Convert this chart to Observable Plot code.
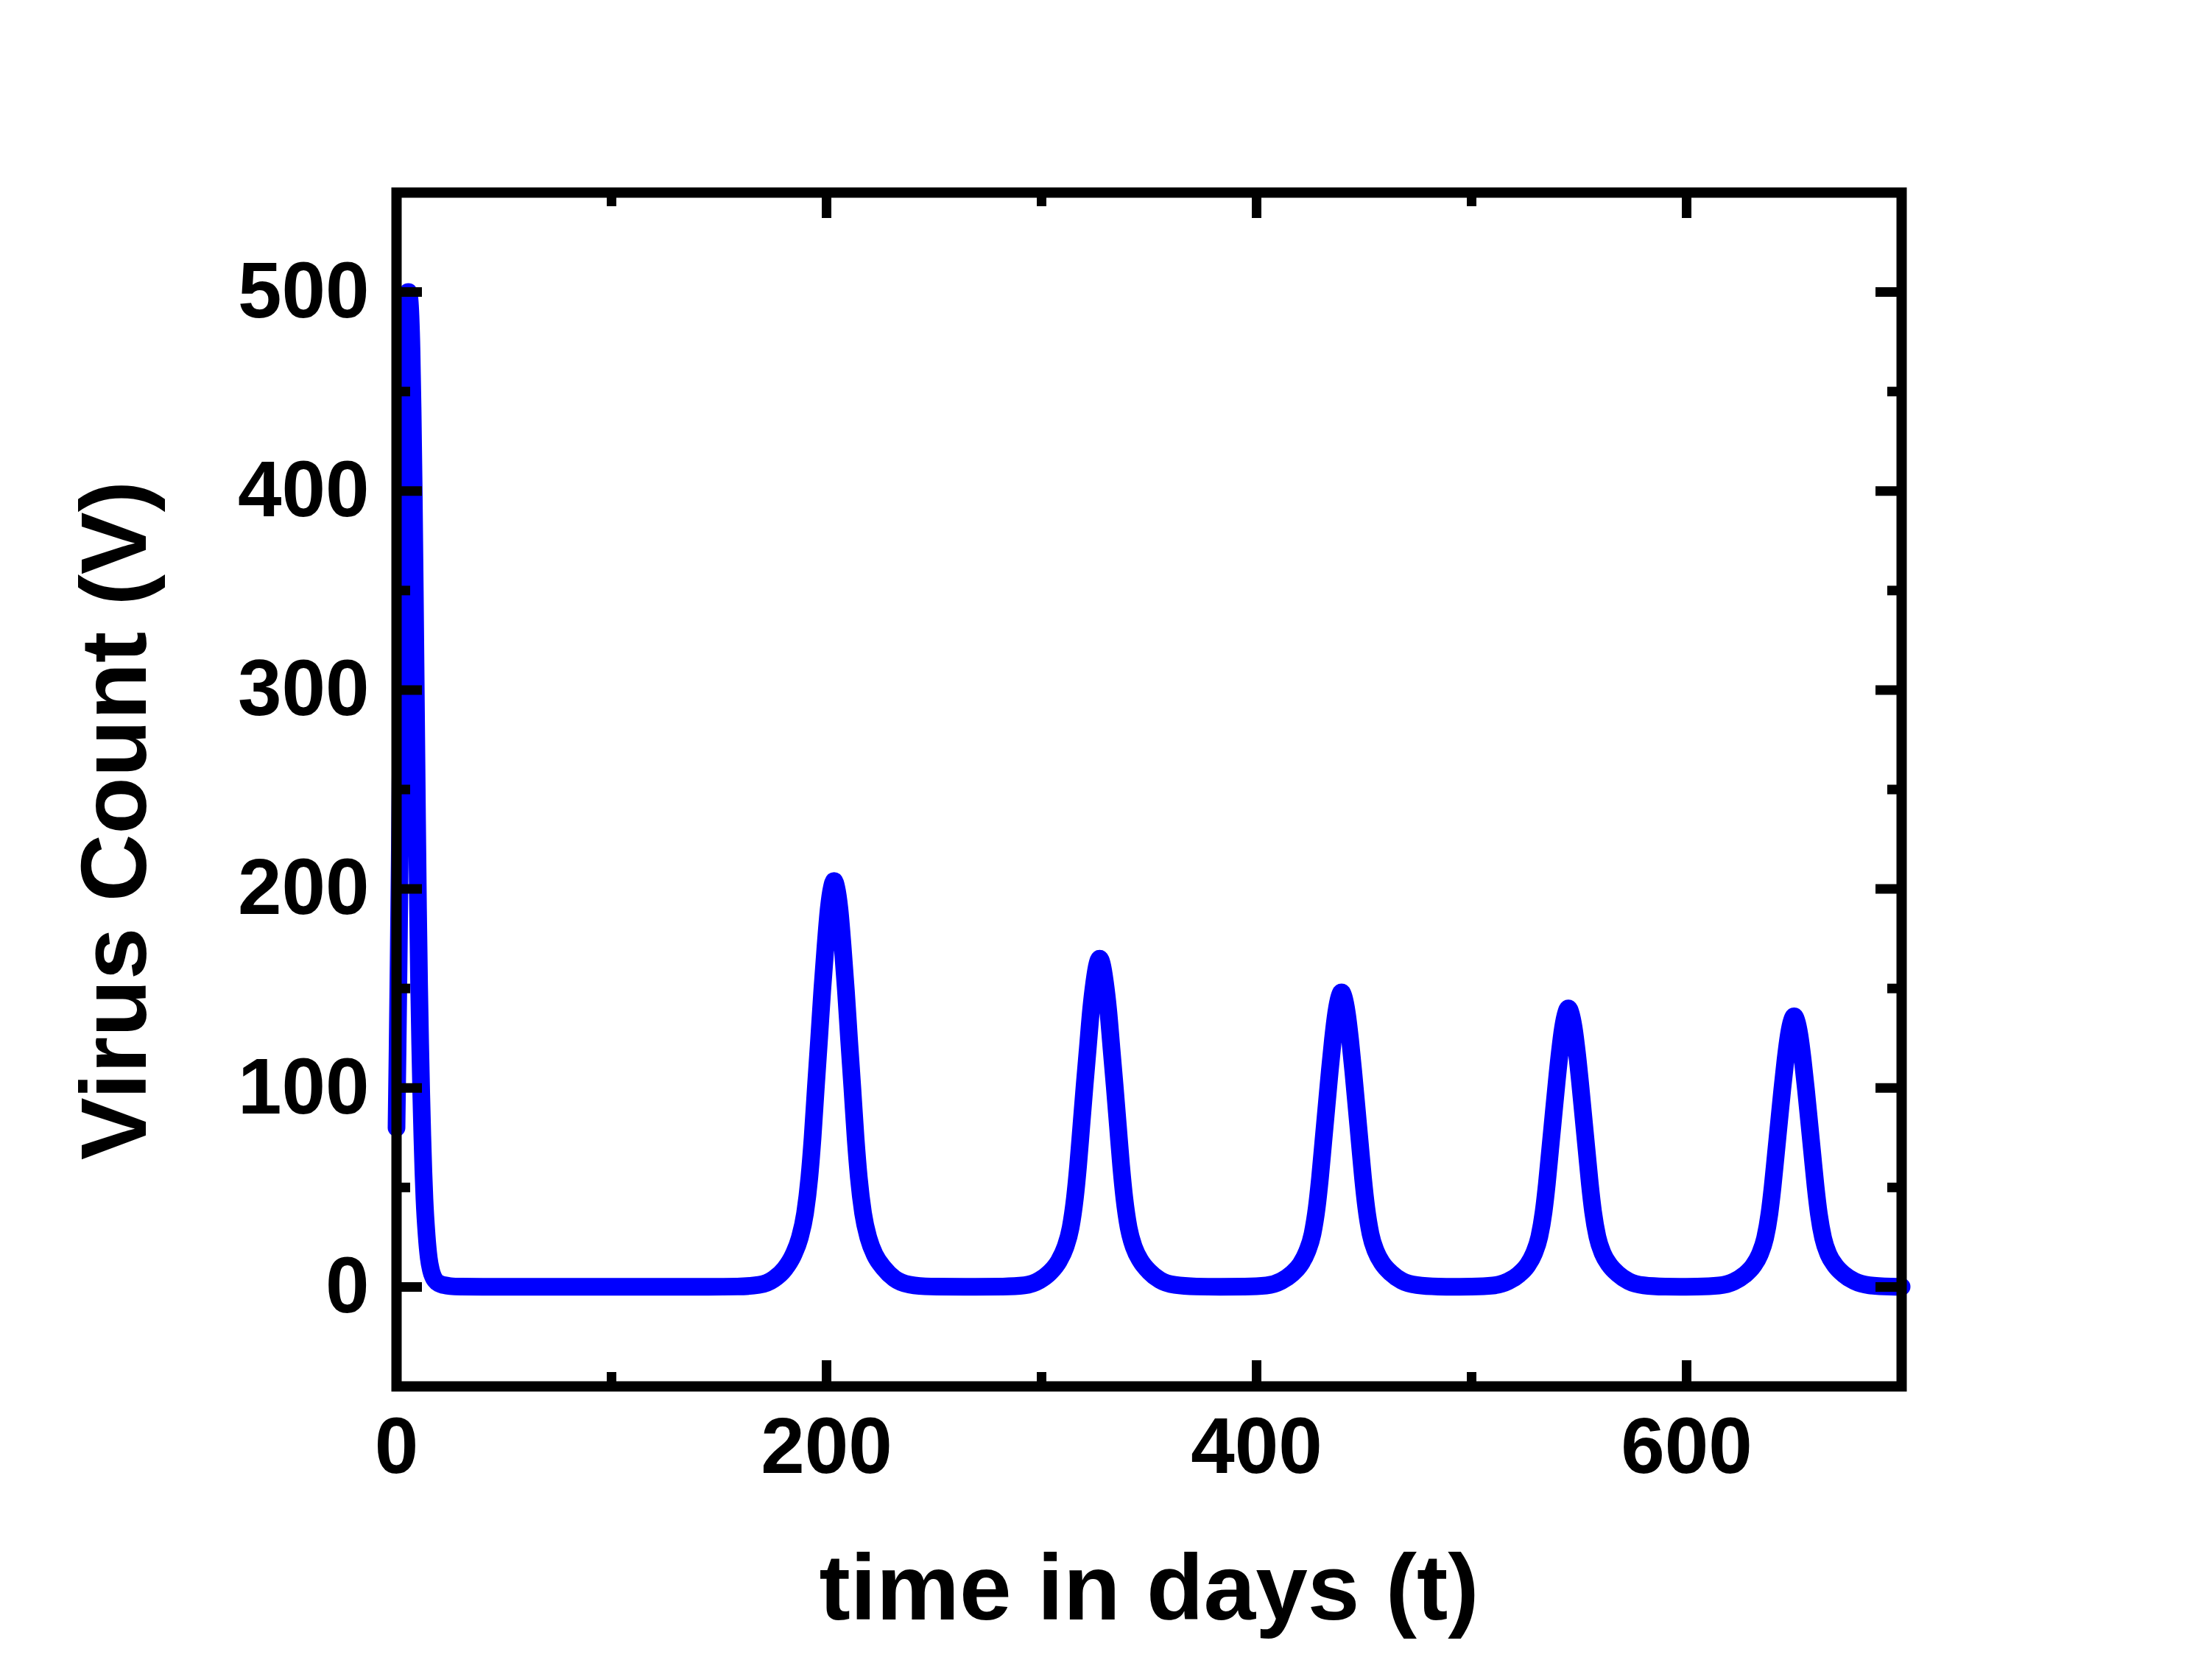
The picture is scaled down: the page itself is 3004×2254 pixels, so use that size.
<!DOCTYPE html>
<html>
<head>
<meta charset="utf-8">
<script src="https://cdn.jsdelivr.net/npm/d3@7"></script>
<script src="https://cdn.jsdelivr.net/npm/@observablehq/plot@0.6"></script>
<style>
  html, body { margin: 0; padding: 0; background: #ffffff; }
  #chart { width: 3004px; height: 2254px; }
</style>
</head>
<body>
<div id="chart"></div>
<script>
// ---------- data ----------
const xTitle = "time in days (t)";
const yTitle = "Virus Count (V)";

const xTickLabels = [0, 200, 400, 600];
const xMinorTicks = [100, 300, 500];
const yTickLabels = [0, 100, 200, 300, 400, 500];
const yMinorTicks = [50, 150, 250, 350, 450];

// initial spike and the quiet period after it
const spikeDays  = [0, 0.5, 1, 1.5, 2, 2.5, 3, 3.5, 4, 4.5, 5, 5.5, 6, 6.5, 7, 7.5, 8, 8.5, 9, 9.5, 10, 10.5, 11, 11.5, 12, 12.5, 13, 14, 15, 16, 17, 18, 20, 22, 25, 30, 40, 60, 90, 120, 145];
const spikeVirus = [80, 120, 165, 215, 270, 325, 380, 425, 460, 485, 497, 500, 497, 488, 470, 440, 400, 350, 295, 240, 190, 152, 122, 97, 76, 58, 44, 26, 14.5, 8.5, 5.2, 3.3, 1.6, 0.9, 0.4, 0.15, 0.05, 0.02, 0.02, 0.03, 0.05];

// recurring peaks
const peak1Days  = [158.5, 168.5, 175.5, 180.5, 184.5, 187.5, 190, 192, 193.5, 195, 196.5, 198, 199.5, 201, 202.5, 203.5, 204.5, 206, 207.5, 209, 210.5, 212, 213.5, 215, 217, 219.5, 222.5, 226.5, 231.5, 238.5, 248.5];
const peak1Virus = [0.2, 1, 4, 9, 16, 24.5, 37, 55, 75, 100, 124, 149, 171, 190, 201, 204, 201, 190, 171, 149, 124, 100, 75, 55, 37, 24.5, 16, 9.6, 4.3, 1.2, 0.2];

const peak2Days  = [282, 292, 299, 304, 308, 311, 313.5, 315.5, 317, 318.5, 320, 321.5, 323, 324.5, 326, 327, 328, 329.5, 331, 332.5, 334, 335.5, 337, 338.5, 340.5, 343, 346, 350, 355, 362, 372];
const peak2Virus = [0.2, 0.8, 3.3, 7.4, 12.9, 19.8, 29.7, 44.6, 61, 81, 101, 120, 139, 153, 162.5, 165, 162.5, 153, 139, 120, 101, 81, 61, 44.6, 29.7, 19.8, 13.2, 7.8, 3.5, 1, 0.2];

const peak3Days  = [394.5, 404.5, 411.5, 416.5, 420.5, 423.5, 426, 428, 429.5, 431, 432.5, 434, 435.5, 437, 438.5, 439.5, 440.5, 442, 443.5, 445, 446.5, 448, 449.5, 451, 453, 455.5, 458.5, 462.5, 467.5, 474.5, 484.5];
const peak3Virus = [0.15, 0.7, 3, 6.7, 11.5, 17.8, 26.6, 40, 54.8, 72.5, 90.3, 108, 124.3, 137.6, 145.8, 148, 145.8, 137.6, 124.3, 108, 90.3, 72.5, 54.8, 40, 26.6, 17.8, 11.8, 7, 3.1, 0.9, 0.15];

const peak4Days  = [500, 510, 517, 522, 526, 529, 531.5, 533.5, 535, 536.5, 538, 539.5, 541, 542.5, 544, 545, 546, 547.5, 549, 550.5, 552, 553.5, 555, 556.5, 558.5, 561, 564, 568, 573, 580, 590];
const peak4Virus = [0.14, 0.7, 2.8, 6.3, 10.9, 16.8, 25.2, 37.8, 51.8, 68.6, 85.4, 102.2, 117.6, 130.2, 137.9, 140, 137.9, 130.2, 117.6, 102.2, 85.4, 68.6, 51.8, 37.8, 25.2, 16.8, 11.2, 6.6, 2.9, 0.8, 0.14];

const peak5Days  = [605, 615, 622, 627, 631, 634, 636.5, 638.5, 640, 641.5, 643, 644.5, 646, 647.5, 649, 650, 651, 652.5, 654, 655.5, 657, 658.5, 660, 661.5, 663.5, 666, 669, 673, 678, 685, 695];
const peak5Virus = [0.14, 0.7, 2.7, 6.1, 10.6, 16.3, 24.5, 36.7, 50.3, 66.6, 83, 99.3, 114.2, 126.5, 134, 136, 134, 126.5, 114.2, 99.3, 83, 66.6, 50.3, 36.7, 24.5, 16.3, 10.9, 6.4, 2.9, 0.8, 0.14];

// quiet stretches between peaks
const troughDays  = [265, 383, 492, 597, 700];
const troughVirus = [0.05, 0.05, 0.06, 0.07, 0.06];

// ---------- table built from the arrays ----------
const pairs = (ds, vs) => ds.map((t, i) => ({t, v: vs[i]}));
const series = [
  ...pairs(spikeDays, spikeVirus),
  ...pairs(peak1Days, peak1Virus),
  ...pairs(peak2Days, peak2Virus),
  ...pairs(peak3Days, peak3Virus),
  ...pairs(peak4Days, peak4Virus),
  ...pairs(peak5Days, peak5Virus),
  ...pairs(troughDays, troughVirus)
].sort((a, b) => a.t - b.t);

// ---------- layout ----------
const W = 3004, H = 2254;
const mL = 538, mR = 422, mT = 261, mB = 372;
const plotW = W - mL - mR, plotH = H - mT - mB;
const majorLen = 35, minorLen = 19;
const tickW = 13;
const font = "'Liberation Sans', Arial, Helvetica, sans-serif";

const chart = Plot.plot({
  width: W,
  height: H,
  marginLeft: mL, marginRight: mR, marginTop: mT, marginBottom: mB,
  x: {domain: [0, 700]},
  y: {domain: [-50, 550]},
  style: {fontFamily: font, fontWeight: "bold", color: "black", background: "white", overflow: "visible"},
  marks: [
    Plot.line(series, {x: "t", y: "v", stroke: "#0000ff", strokeWidth: 24, curve: "monotone-x", strokeLinejoin: "round", strokeLinecap: "round"}),

    // inward ticks, bottom & top
    Plot.ruleX(xTickLabels, {x: d => d, stroke: "black", strokeWidth: tickW, insetTop: plotH - majorLen}),
    Plot.ruleX(xTickLabels, {x: d => d, stroke: "black", strokeWidth: tickW, insetBottom: plotH - majorLen}),
    Plot.ruleX(xMinorTicks, {x: d => d, stroke: "black", strokeWidth: tickW, insetTop: plotH - minorLen}),
    Plot.ruleX(xMinorTicks, {x: d => d, stroke: "black", strokeWidth: tickW, insetBottom: plotH - minorLen}),
    // inward ticks, left & right
    Plot.ruleY(yTickLabels, {y: d => d, stroke: "black", strokeWidth: tickW, insetRight: plotW - majorLen}),
    Plot.ruleY(yTickLabels, {y: d => d, stroke: "black", strokeWidth: tickW, insetLeft: plotW - majorLen}),
    Plot.ruleY(yMinorTicks, {y: d => d, stroke: "black", strokeWidth: tickW, insetRight: plotW - minorLen}),
    Plot.ruleY(yMinorTicks, {y: d => d, stroke: "black", strokeWidth: tickW, insetLeft: plotW - minorLen}),

    Plot.frame({stroke: "black", strokeWidth: 14}),

    Plot.axisX(xTickLabels, {anchor: "bottom", tickSize: 0, tickPadding: 42, fontSize: 107, fontWeight: "bold", fill: "black", label: null}),
    Plot.axisY(yTickLabels, {anchor: "left", tickSize: 0, tickPadding: 37, fontSize: 107, fontWeight: "bold", fill: "black", label: null}),

    Plot.text([xTitle], {frameAnchor: "bottom", dy: 276, text: d => d, fontSize: 127, fontWeight: "bold", fill: "black", lineAnchor: "middle", textAnchor: "middle"}),
    Plot.text([yTitle], {frameAnchor: "left", dx: -381, dy: 42, text: d => d, rotate: -90, fontSize: 127, fontWeight: "bold", fill: "black", lineAnchor: "middle", textAnchor: "middle"})
  ]
});

document.getElementById("chart").appendChild(chart);
</script>
</body>
</html>
